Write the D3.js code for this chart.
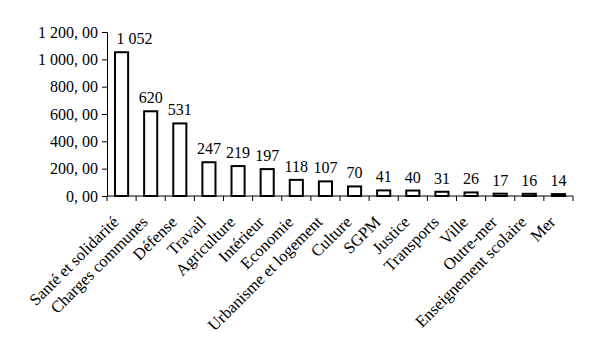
<!DOCTYPE html>
<html>
<head>
<meta charset="utf-8">
<script src="https://cdn.jsdelivr.net/npm/d3@7"></script>
<style>
  body { margin: 0; background: #fff; }
  svg { display: block; }
  text { font-family: "Liberation Serif", "Times New Roman", serif; fill: #000; }
</style>
</head>
<body>
<svg id="chart" width="591" height="350"></svg>
<script>
// Budget by ministry (values shown above each bar)
const categories = [
  "Santé et solidarité", "Charges communes", "Défense", "Travail", "Agriculture",
  "Intérieur", "Economie", "Urbanisme et logement", "Culture", "SGPM",
  "Justice", "Transports", "Ville", "Outre-mer", "Enseignement scolaire", "Mer"
];
const values = [1052, 620, 531, 247, 219, 197, 118, 107, 70, 41, 40, 31, 26, 17, 16, 14];
const yTicks = [0, 200, 400, 600, 800, 1000, 1200];

const svg = d3.select("#chart");
const margin = { left: 107, right: 18, top: 32, bottom: 154 };
const W = 591, H = 350;

const x = d3.scaleBand()
  .domain(categories)
  .range([margin.left, W - margin.right])
  .paddingInner(0.55)
  .paddingOuter(0.275);

const y = d3.scaleLinear()
  .domain([0, 1200])
  .range([H - margin.bottom, margin.top]);

// French number formats: space as thousands separator, comma as decimal mark
const fr = d3.formatLocale({ decimal: ",", thousands: "\u00a0", grouping: [3], currency: ["", " €"] });
const fmtAxis = v => fr.format(",.2f")(v).replace(",", ", ");
const fmtVal = fr.format(",d");

// Bars
svg.append("g").selectAll("rect")
  .data(values)
  .join("rect")
  .attr("x", (d, i) => x(categories[i]))
  .attr("y", d => y(d))
  .attr("width", x.bandwidth())
  .attr("height", d => y(0) - y(d))
  .attr("fill", "#fff")
  .attr("stroke", "#000")
  .attr("stroke-width", 2);

// Value labels; the first one is nudged right so it clears the axis labels
svg.append("g").selectAll("text")
  .data(values)
  .join("text")
  .attr("x", (d, i) => x(categories[i]) + x.bandwidth() / 2 + (i === 0 ? 13 : 0))
  .attr("y", d => y(d) - 8)
  .attr("text-anchor", "middle")
  .attr("font-size", 16)
  .text(d => fmtVal(d));

// Y axis
const yAxis = svg.append("g")
  .attr("transform", `translate(${margin.left},0)`)
  .call(d3.axisLeft(y).tickValues(yTicks).tickSize(5).tickPadding(4).tickFormat(fmtAxis));
yAxis.selectAll("text").attr("font-size", 16).style("font-family", "'Liberation Serif', serif");
yAxis.select(".domain").attr("stroke", "#000");

// X axis with ticks at band boundaries
const xAxis = svg.append("g")
  .attr("transform", `translate(0,${y(0)})`);
const step = x.step();
const bounds = d3.range(categories.length + 1).map(i => margin.left + i * step);
xAxis.append("line")
  .attr("x1", margin.left).attr("x2", bounds[bounds.length - 1])
  .attr("stroke", "#000");
xAxis.selectAll("line.tick")
  .data(bounds)
  .join("line")
  .attr("class", "tick")
  .attr("x1", d => d).attr("x2", d => d)
  .attr("y1", 0).attr("y2", 5)
  .attr("stroke", "#000");

// Rotated category labels
xAxis.selectAll("text.cat")
  .data(categories)
  .join("text")
  .attr("class", "cat")
  .attr("font-size", 16.5)
  .attr("text-anchor", "end")
  .attr("transform", d => `translate(${x(d) + x.bandwidth() / 2 - 2},${27}) rotate(-45)`)
  .text(d => d);
</script>
</body>
</html>
